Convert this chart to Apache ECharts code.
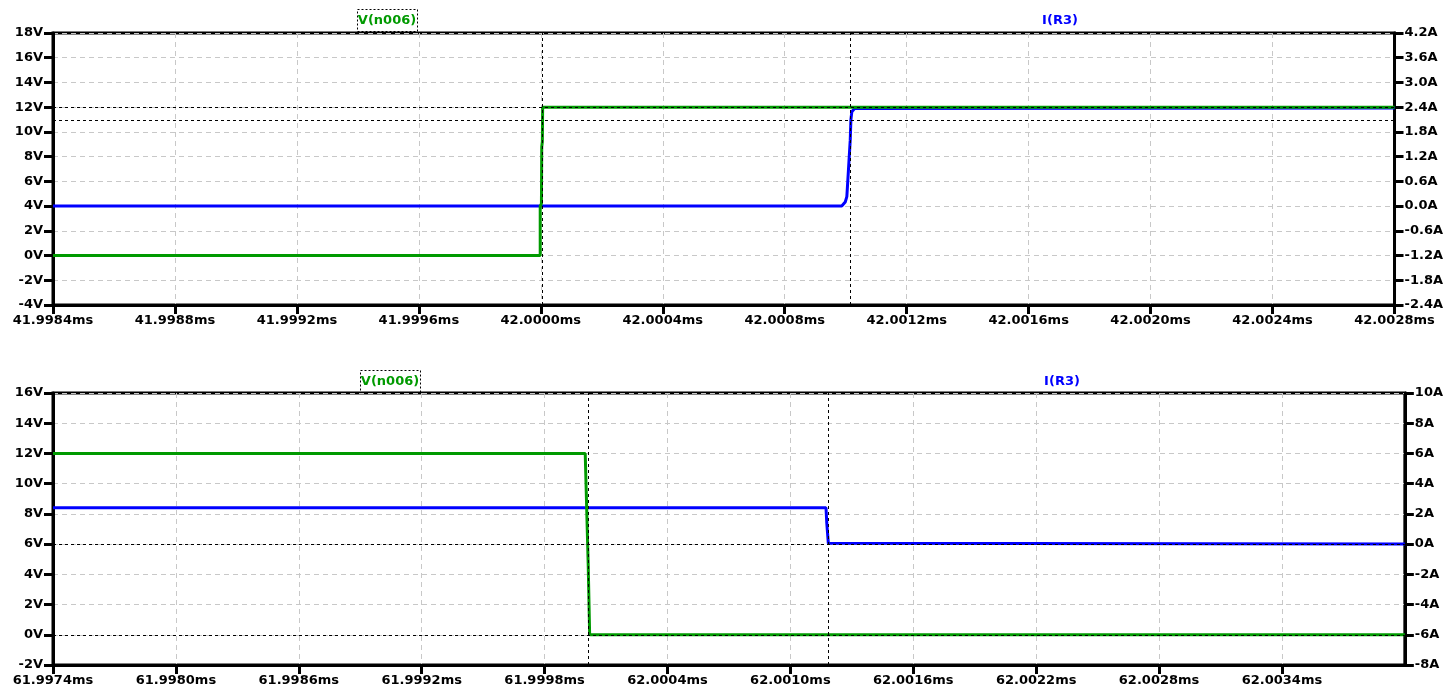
<!DOCTYPE html>
<html>
<head>
<meta charset="utf-8">
<script src="https://cdn.jsdelivr.net/npm/echarts@6/dist/echarts.min.js"></script>
<style>
html,body{margin:0;padding:0;background:#fff;}
#c{width:1446px;height:692px;}
</style>
</head>
<body>
<div id="c"></div>
<script>
// ---- Data (time in ms) ----
// Top plot: around 42.000 ms
const topTimeV = [41.9984, 41.999998, 41.999998, 42.000002, 42.000003, 42.000005, 42.000006, 42.0028];
const topV     = [0, 0, 4, 4.2, 8.8, 9.2, 12, 12];
const topTimeI = [41.9984, 42.000987, 42.0009985, 42.0010037, 42.001009, 42.0010148, 42.001017, 42.00102, 42.001029, 42.0028];
const topI     = [0, 0, 0.1, 0.23, 0.88, 1.6, 2.09, 2.29, 2.37, 2.38];
// Bottom plot: around 62.000 ms
const botTimeV = [61.9974, 61.9999985, 62.0000, 62.0000083, 62.0000132, 62.000016, 62.00002, 62.004];
const botV     = [12, 12, 11.2, 11.2, 4.5, 4.5, 0, 0];
const botTimeI = [61.9974, 62.001174, 62.0011777, 62.001182, 62.0011854, 62.00119, 62.004];
const botI     = [2.4, 2.4, 1.4, 1.3, 0.05, 0, 0];

// Axis ranges (ms / V / A)
const topX = {min: 41.9984, max: 42.0028, step: 0.0004};
const botX = {min: 61.9974, max: 62.0040, step: 0.0006};
const topYV = {min: -4, max: 18, step: 2};
const topYA = {min: -2.4, max: 4.2, step: 0.6};
const botYV = {min: -2, max: 16, step: 2};
const botYA = {min: -8, max: 10, step: 2};

// Cursors
const topCursorsX = [42.000005, 42.001015];
const topCursorV = [12, 10.96];
const botCursorsX = [62.000011, 62.001185];
const botCursorV = [0];
const botCursorA = [0];

const seriesNames = ['V(n006)', 'I(R3)'];

const GREEN = '#009a00', BLUE = '#0000ff';
const FONT = 'DejaVu Sans';
const ns = t => Math.round(t * 1e7) / 10; // ms -> ns
const pairs = (ts, vs) => ts.map((t, i) => [ns(t), vs[i]]);

const gridLine = {show: true, lineStyle: {color: '#c8c8c8', type: [5, 4], width: 1}};
const lbl = {color: '#000', fontFamily: FONT, fontWeight: 'bold', fontSize: 13};

function xAx(g, r, showMax) {
  return {
    type: 'value', gridIndex: g, min: ns(r.min), max: ns(r.max), interval: Math.round(r.step * 1e6),
    axisLine: {show: true, onZero: false, lineStyle: {color: '#000', width: 3}},
    axisTick: {show: true, length: 9, lineStyle: {color: '#000', width: 3}},
    axisLabel: Object.assign({margin: 9, showMaxLabel: showMax, showMinLabel: true,
      formatter: v => (v / 1e6).toFixed(4) + 'ms'}, lbl),
    splitLine: gridLine
  };
}
function yAx(g, r, pos, dec, unit, split) {
  return {
    type: 'value', gridIndex: g, position: pos, min: r.min, max: r.max, interval: r.step,
    axisLine: {show: true, onZero: false, lineStyle: {color: '#000', width: 3}},
    axisTick: {show: true, length: 9, lineStyle: {color: '#000', width: 3}},
    axisLabel: Object.assign({margin: 10, showMaxLabel: true, showMinLabel: true,
      formatter: v => (Math.abs(v) < 1e-9 ? 0 : v).toFixed(dec) + unit}, lbl),
    splitLine: split ? gridLine : {show: false}
  };
}

const cursorStyle = {color: '#000', type: [3, 3], width: 1};
function cursorSeries(xi, yi, xs, ys) {
  const d = [];
  xs.forEach(x => d.push({xAxis: ns(x)}));
  ys.forEach(y => d.push({yAxis: y}));
  return {
    type: 'line', xAxisIndex: xi, yAxisIndex: yi, data: [], z: 10, silent: true,
    markLine: {symbol: ['none', 'none'], silent: true, animation: false,
      label: {show: false}, lineStyle: cursorStyle, data: d}
  };
}
function trace(xi, yi, data, color, name) {
  return {
    type: 'line', name: name, xAxisIndex: xi, yAxisIndex: yi, data: data,
    showSymbol: false, symbol: 'none', z: 3,
    lineStyle: {color: color, width: 3}, itemStyle: {color: color}
  };
}

const chart = echarts.init(document.getElementById('c'));
chart.setOption({
  backgroundColor: '#fff',
  animation: false,
  grid: [
    {left: 53, right: 49, top: 33, height: 272, show: true, borderColor: '#000', borderWidth: 3},
    {left: 53, right: 40, top: 393, height: 272, show: true, borderColor: '#000', borderWidth: 3}
  ],
  xAxis: [xAx(0, topX, true), xAx(1, botX, false)],
  yAxis: [
    yAx(0, topYV, 'left', 0, 'V', true),
    yAx(0, topYA, 'right', 1, 'A', false),
    yAx(1, botYV, 'left', 0, 'V', true),
    yAx(1, botYA, 'right', 0, 'A', false)
  ],
  series: [
    trace(0, 1, pairs(topTimeI, topI), BLUE, seriesNames[1]),
    trace(0, 0, pairs(topTimeV, topV), GREEN, seriesNames[0]),
    trace(1, 3, pairs(botTimeI, botI), BLUE, seriesNames[1]),
    trace(1, 2, pairs(botTimeV, botV), GREEN, seriesNames[0]),
    cursorSeries(0, 0, topCursorsX, topCursorV),
    cursorSeries(1, 2, botCursorsX, botCursorV),
    cursorSeries(1, 3, [], botCursorA)
  ],
  graphic: [
    {type: 'rect', shape: {x: 357.5, y: 9.5, width: 60, height: 22}, style: {fill: 'none', stroke: '#000', lineWidth: 1, lineDash: [2, 2]}},
    {type: 'text', x: 387, y: 21, style: {text: seriesNames[0], fill: GREEN, font: 'bold 13px "DejaVu Sans"', align: 'center', verticalAlign: 'middle'}},
    {type: 'text', x: 1060, y: 21, style: {text: seriesNames[1], fill: BLUE, font: 'bold 13px "DejaVu Sans"', align: 'center', verticalAlign: 'middle'}},
    {type: 'rect', shape: {x: 360.5, y: 370.5, width: 60, height: 22}, style: {fill: 'none', stroke: '#000', lineWidth: 1, lineDash: [2, 2]}},
    {type: 'text', x: 390, y: 382, style: {text: seriesNames[0], fill: GREEN, font: 'bold 13px "DejaVu Sans"', align: 'center', verticalAlign: 'middle'}},
    {type: 'text', x: 1062, y: 382, style: {text: seriesNames[1], fill: BLUE, font: 'bold 13px "DejaVu Sans"', align: 'center', verticalAlign: 'middle'}}
  ]
});
</script>
</body>
</html>
